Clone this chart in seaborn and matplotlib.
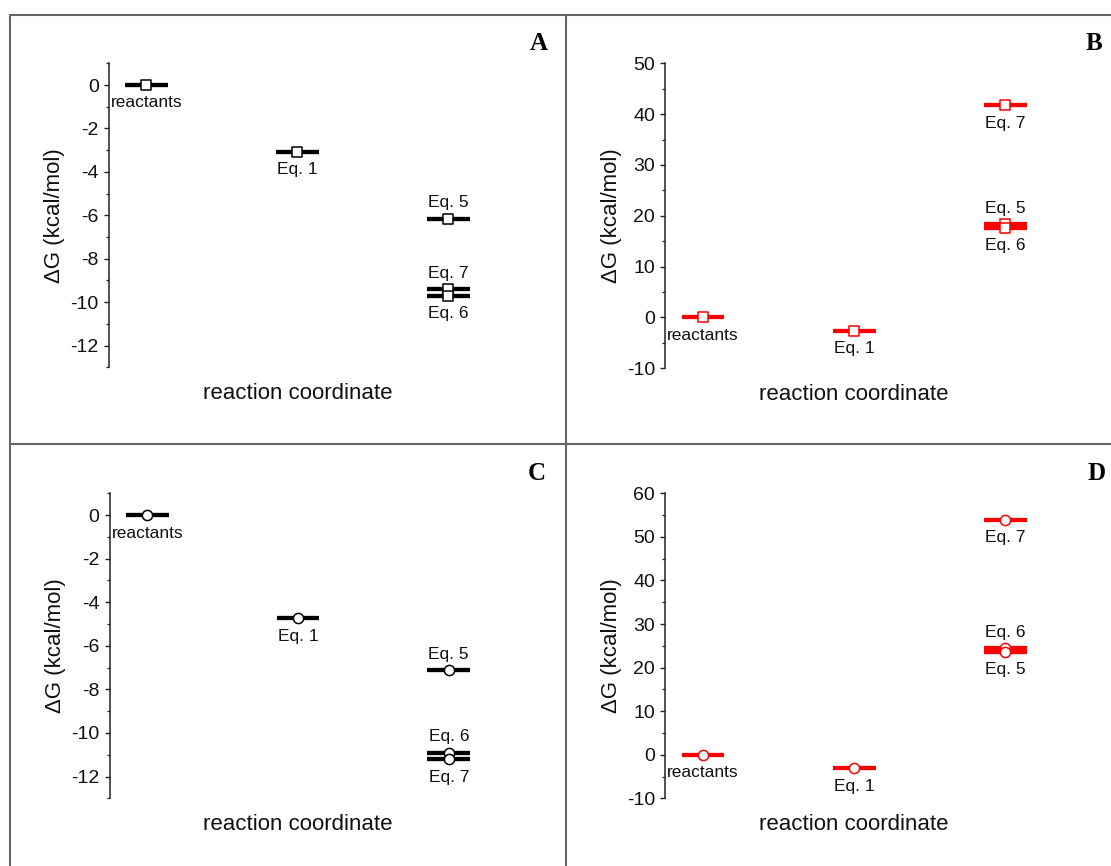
import matplotlib
matplotlib.use("Agg")
import matplotlib.pyplot as plt
import seaborn as sns
import pandas as pd
from matplotlib.lines import Line2D
from matplotlib.ticker import MultipleLocator

# ---------------- data ----------------
# stage index along the reaction coordinate: 0 = reactants, 1 = Eq. 1, 2 = Eq. 5/6/7
a_labels = ["reactants", "Eq. 1", "Eq. 5", "Eq. 7", "Eq. 6"]
a_stage = [0, 1, 2, 2, 2]
a_dg = [0.0, -3.07, -6.16, -9.39, -9.70]
a_side = ["below", "below", "above", "above", "below"]

b_labels = ["reactants", "Eq. 1", "Eq. 7", "Eq. 5", "Eq. 6"]
b_stage = [0, 1, 2, 2, 2]
b_dg = [0.0, -2.66, 41.75, 18.4, 17.6]
b_side = ["below", "below", "below", "above", "below"]

c_labels = ["reactants", "Eq. 1", "Eq. 5", "Eq. 6", "Eq. 7"]
c_stage = [0, 1, 2, 2, 2]
c_dg = [0.0, -4.74, -7.11, -10.9, -11.2]
c_side = ["below", "below", "above", "above", "below"]

d_labels = ["reactants", "Eq. 1", "Eq. 7", "Eq. 6", "Eq. 5"]
d_stage = [0, 1, 2, 2, 2]
d_dg = [0.0, -3.1, 53.9, 24.5, 23.6]
d_side = ["below", "below", "below", "above", "below"]

panel_letters = ["A", "B", "C", "D"]
y_ticks_ac = [0, -2, -4, -6, -8, -10, -12]
y_ticks_b = [50, 40, 30, 20, 10, 0, -10]
y_ticks_d = [60, 50, 40, 30, 20, 10, 0, -10]

# ---------------- style ----------------
sns.set_style("ticks")
plt.rcParams["font.family"] = ["Liberation Sans", "DejaVu Sans"]
plt.rcParams["axes.unicode_minus"] = False

W, H = 1111, 866
fig = plt.figure(figsize=(W / 100, H / 100), dpi=100)
fig.patch.set_facecolor("white")

def px_axes(left, top, width, height):
    return fig.add_axes([left / W, 1 - (top + height) / H, width / W, height / H])

panels = [
    dict(labels=a_labels, stage=a_stage, dg=a_dg, side=a_side, color="black", marker="s",
         ylim=(-13, 1), ticks=y_ticks_ac, minor=1, box=(108.7, 63.3, 377.3, 304.0),
         letter=(539, 43.5)),
    dict(labels=b_labels, stage=b_stage, dg=b_dg, side=b_side, color="#ff0000", marker="s",
         ylim=(-10, 50), ticks=y_ticks_b, minor=5, box=(665.2, 63.3, 378.0, 305.0),
         letter=(1094, 43.5)),
    dict(labels=c_labels, stage=c_stage, dg=c_dg, side=c_side, color="black", marker="o",
         ylim=(-13, 1), ticks=y_ticks_ac, minor=1, box=(109.5, 493.3, 377.0, 305.0),
         letter=(537, 473.5)),
    dict(labels=d_labels, stage=d_stage, dg=d_dg, side=d_side, color="#ff0000", marker="o",
         ylim=(-10, 60), ticks=y_ticks_d, minor=5, box=(665.2, 493.3, 378.0, 305.0),
         letter=(1097, 473.5)),
]

half = 0.142
for p, letter in zip(panels, panel_letters):
    left, top, wpx, hpx = p["box"]
    ax = px_axes(left, top, wpx, hpx)
    df = pd.DataFrame({"stage": p["stage"], "dg": p["dg"], "label": p["labels"]})
    st = df["stage"].astype(float)
    ax.hlines(df["dg"], st - half, st + half, colors=p["color"], lw=3.1, zorder=2)
    sns.scatterplot(data=df, x="stage", y="dg", marker=p["marker"], s=58 if p["marker"] == "s" else 54,
                    color="white", edgecolor=p["color"], linewidth=1.1, ax=ax,
                    legend=False, zorder=3)
    for lab, x, y, side in zip(p["labels"], p["stage"], p["dg"], p["side"]):
        if side == "below":
            ax.annotate(lab, (x, y), xytext=(0, -7.5), textcoords="offset points",
                        ha="center", va="top", fontsize=12.5, color="#111111")
        else:
            ax.annotate(lab, (x, y), xytext=(0, 6), textcoords="offset points",
                        ha="center", va="bottom", fontsize=12.5, color="#111111")
    ax.set_xlim(-0.25, 2.25)
    ax.set_ylim(*p["ylim"])
    ax.set_yticks(p["ticks"])
    ax.yaxis.set_minor_locator(MultipleLocator(p["minor"]))
    ax.set_xticks([])
    for s in ["top", "right", "bottom"]:
        ax.spines[s].set_visible(False)
    ax.spines["left"].set_color("#222222")
    ax.spines["left"].set_linewidth(1.1)
    ax.tick_params(axis="y", which="major", direction="out", length=3.6, width=1.0,
                   pad=3.6, labelsize=14, colors="#222222", labelcolor="#111111")
    ax.tick_params(axis="y", which="minor", direction="out", length=2.2, width=0.9,
                   colors="#222222")
    ax.set_facecolor("none")
    ax.set_ylabel("ΔG (kcal/mol)", fontsize=16, color="#111111")
    ax.yaxis.set_label_coords(-43.5 / wpx, 0.5)
    ax.set_xlabel("reaction coordinate", fontsize=16, color="#111111")
    ax.xaxis.set_label_coords(0.5, -15.5 / hpx)
    ax.xaxis.label.set_verticalalignment("top")
    lx, ly = p["letter"]
    fig.text(lx / W, 1 - ly / H, letter, fontfamily=["Liberation Serif", "DejaVu Serif"],
             fontweight="bold", fontsize=18, ha="center", va="center", color="black")

# panel frame lines
frame_kw = dict(color="#666666", lw=1.5, transform=fig.transFigure)
x_left, y_top, x_mid, y_mid = 10 / W, 1 - 14.5 / H, 566 / W, 1 - 444 / H
fig.add_artist(Line2D([x_left, 1.0], [y_top, y_top], **frame_kw))
fig.add_artist(Line2D([x_left, 1.0], [y_mid, y_mid], **frame_kw))
fig.add_artist(Line2D([x_left, x_left], [0.0, y_top], **frame_kw))
fig.add_artist(Line2D([x_mid, x_mid], [0.0, y_top], **frame_kw))

fig.savefig("out.png", dpi=100, facecolor="white")
